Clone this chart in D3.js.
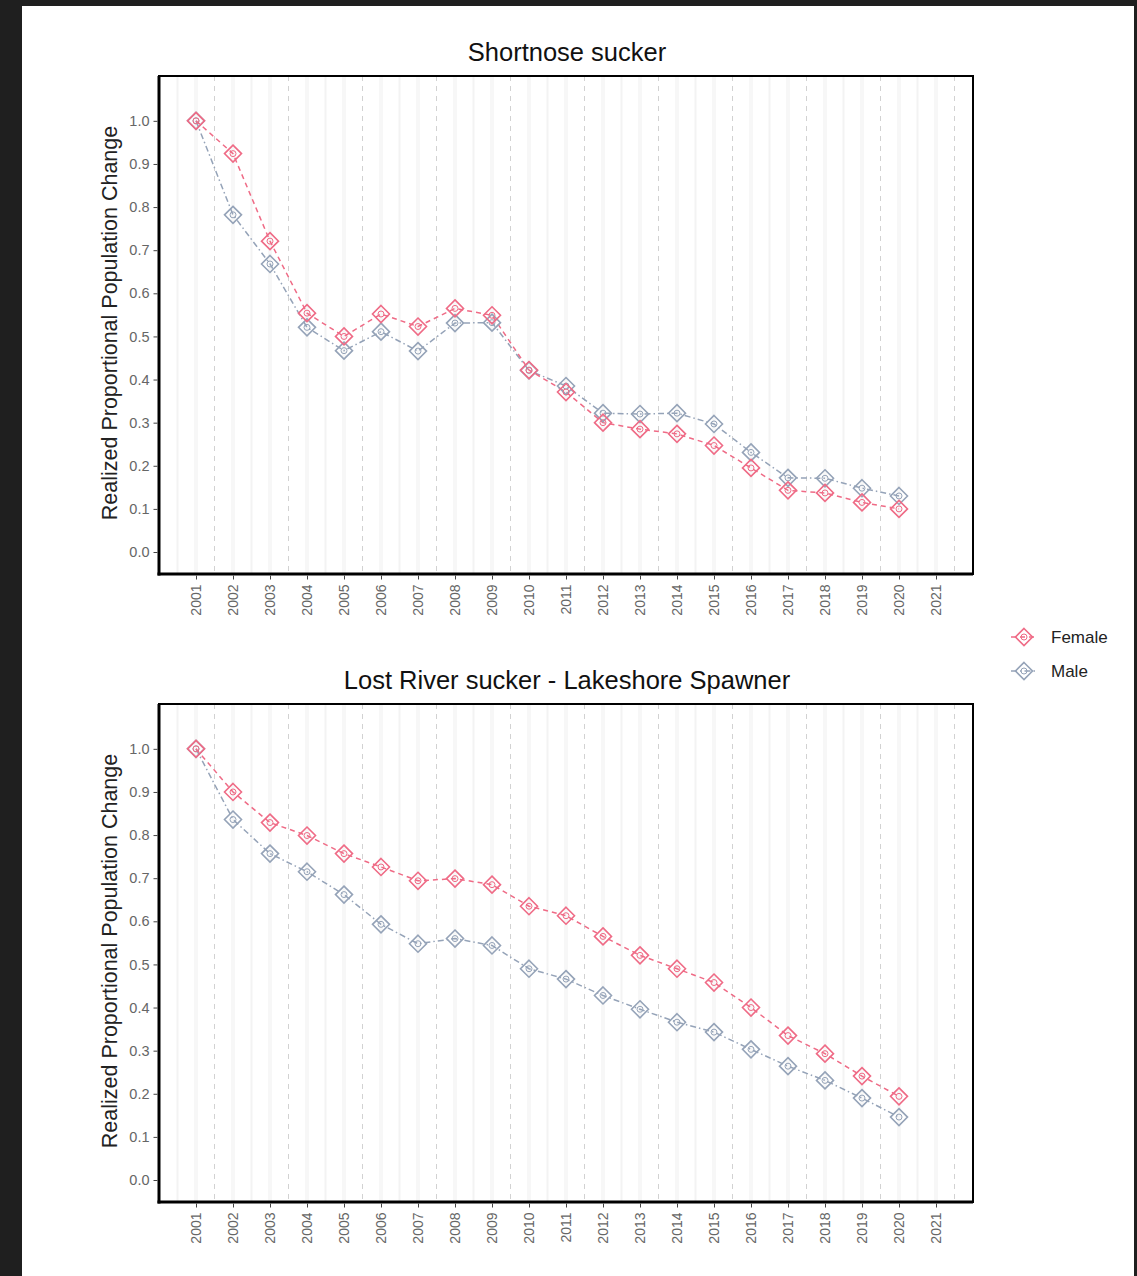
<!DOCTYPE html>
<html>
<head>
<meta charset="utf-8">
<script src="https://cdn.jsdelivr.net/npm/d3@7"></script>
<style>
html,body{margin:0;padding:0;background:#1f1f1f;}
svg{display:block;}
</style>
</head>
<body>
<script>
const years = [2001,2002,2003,2004,2005,2006,2007,2008,2009,2010,2011,2012,2013,2014,2015,2016,2017,2018,2019,2020];
const tickYears = [2001,2002,2003,2004,2005,2006,2007,2008,2009,2010,2011,2012,2013,2014,2015,2016,2017,2018,2019,2020,2021];
const yTicks = [0,0.1,0.2,0.3,0.4,0.5,0.6,0.7,0.8,0.9,1.0];
const seriesNames = ["Female","Male"];
const panelTitles = ["Shortnose sucker","Lost River sucker - Lakeshore Spawner"];
const yLabel = "Realized Proportional Population Change";

const snsFemale = [1.0,0.924,0.721,0.554,0.500,0.552,0.523,0.565,0.549,0.422,0.371,0.300,0.285,0.274,0.247,0.195,0.143,0.137,0.115,0.100];
const snsMale   = [1.0,0.782,0.668,0.521,0.467,0.511,0.466,0.531,0.532,0.421,0.385,0.322,0.320,0.322,0.297,0.231,0.172,0.171,0.148,0.130];
const lrsFemale = [1.0,0.900,0.829,0.799,0.757,0.726,0.694,0.699,0.685,0.635,0.613,0.565,0.521,0.490,0.458,0.400,0.335,0.293,0.241,0.194];
const lrsMale   = [1.0,0.836,0.757,0.715,0.662,0.593,0.548,0.560,0.544,0.490,0.466,0.428,0.396,0.366,0.343,0.303,0.264,0.231,0.190,0.146];

const W = 1137, H = 1276;
const colors = {Female:"#ef6b86", Male:"#95a3b8"};
const dashes = {Female:"5,4", Male:"6,3,1.5,3"};

const svg = d3.select("body").append("svg").attr("width",W).attr("height",H);
svg.append("rect").attr("x",22).attr("y",6).attr("width",1112).attr("height",H-6).attr("fill","#ffffff");

const font = "'Liberation Sans', Arial, sans-serif";

const panels = [
  {title:panelTitles[0], top:76, data:{Female:snsFemale, Male:snsMale}},
  {title:panelTitles[1], top:704, data:{Female:lrsFemale, Male:lrsMale}}
];
const left = 159, right = 973, ph = 498;

function diamond(g, cx, cy, color){
  const s = 8.5;
  g.append("path")
    .attr("d", `M${cx},${cy-s}L${cx+s},${cy}L${cx},${cy+s}L${cx-s},${cy}Z`)
    .attr("fill","none").attr("stroke",color).attr("stroke-width",1.6);
  g.append("circle").attr("cx",cx).attr("cy",cy).attr("r",3)
    .attr("fill","none").attr("stroke",color).attr("stroke-width",1);
}

panels.forEach(p=>{
  const x = d3.scaleLinear().domain([2000,2022]).range([left,right]);
  const y = d3.scaleLinear().domain([-0.051,1.104]).range([p.top+ph, p.top]);
  const g = svg.append("g");

  // faint vertical stripes
  g.selectAll("line.maj").data(tickYears).join("line")
    .attr("x1",d=>x(d)).attr("x2",d=>x(d)).attr("y1",p.top).attr("y2",p.top+ph)
    .attr("stroke","#f7f7f7").attr("stroke-width",4);
  const evenMinors = d3.range(2000.5,2022,2);
  g.selectAll("line.min2").data(evenMinors).join("line")
    .attr("x1",d=>x(d)).attr("x2",d=>x(d)).attr("y1",p.top).attr("y2",p.top+ph)
    .attr("stroke","#f3f3f3").attr("stroke-width",2);
  // dashed minor gridlines
  const minors = d3.range(2001.5,2022,2);
  g.selectAll("line.min").data(minors).join("line")
    .attr("x1",d=>x(d)).attr("x2",d=>x(d)).attr("y1",p.top).attr("y2",p.top+ph)
    .attr("stroke","#d2d2d2").attr("stroke-width",1).attr("stroke-dasharray","5,5");

  // title
  svg.append("text").attr("x",(left+right)/2 + 1).attr("y",p.top-15)
    .attr("text-anchor","middle").attr("font-family",font).attr("font-size",25.5)
    .attr("fill","#111").text(p.title);

  // y axis label
  svg.append("text")
    .attr("transform",`translate(117,${p.top+ph/2 - 2}) rotate(-90)`)
    .attr("text-anchor","middle").attr("font-family",font).attr("font-size",21.5)
    .attr("fill","#222").text(yLabel);

  // series
  seriesNames.slice().reverse().forEach(s=>{
    const vals = p.data[s];
    const line = d3.line().x((d,i)=>x(years[i])).y(d=>y(d));
    g.append("path").datum(vals).attr("d",line).attr("fill","none")
      .attr("stroke",colors[s]).attr("stroke-width",1.5).attr("stroke-dasharray",dashes[s]);
  });
  seriesNames.slice().reverse().forEach(s=>{
    const mg = g.append("g");
    p.data[s].forEach((v,i)=>diamond(mg, x(years[i]), y(v), colors[s]));
  });

  // border
  svg.append("rect").attr("x",left).attr("y",p.top).attr("width",right-left).attr("height",ph)
    .attr("fill","none").attr("stroke","#000").attr("stroke-width",2);
  svg.append("line").attr("x1",left).attr("x2",left).attr("y1",p.top).attr("y2",p.top+ph+1.5)
    .attr("stroke","#000").attr("stroke-width",3);
  svg.append("line").attr("x1",left-1.5).attr("x2",right).attr("y1",p.top+ph).attr("y2",p.top+ph)
    .attr("stroke","#000").attr("stroke-width",3);

  // y axis ticks
  const ya = svg.append("g").attr("transform",`translate(${left-1.5},0)`)
    .call(d3.axisLeft(y).tickValues(yTicks).tickFormat(d3.format(".1f")).tickSize(4).tickPadding(4));
  ya.select(".domain").remove();
  ya.selectAll("line").attr("stroke","#444");
  ya.selectAll("text").attr("font-family",font).attr("font-size",14.5).attr("fill","#666");

  // x axis
  const xa = svg.append("g").attr("transform",`translate(0,${p.top+ph+1.5})`)
    .call(d3.axisBottom(x).tickValues(tickYears).tickFormat(d3.format("d")).tickSize(4).tickPadding(6));
  xa.select(".domain").remove();
  xa.selectAll("line").attr("stroke","#444");
  xa.selectAll("text").attr("font-family",font).attr("font-size",14).attr("fill","#666")
    .attr("transform","rotate(-90)").attr("text-anchor","end")
    .attr("x",-9).attr("y",0).attr("dy","0.35em");
});

// legend
const lg = svg.append("g");
seriesNames.forEach((s,i)=>{
  const cy = 637 + i*34;
  lg.append("line").attr("x1",1011).attr("x2",1037).attr("y1",cy).attr("y2",cy)
    .attr("stroke",colors[s]).attr("stroke-width",1.5).attr("stroke-dasharray",dashes[s]);
  diamond(lg, 1024, cy, colors[s]);
  lg.append("text").attr("x",1051).attr("y",cy+6).attr("font-family",font).attr("font-size",17)
    .attr("fill","#222").text(s);
});
</script>
</body>
</html>
